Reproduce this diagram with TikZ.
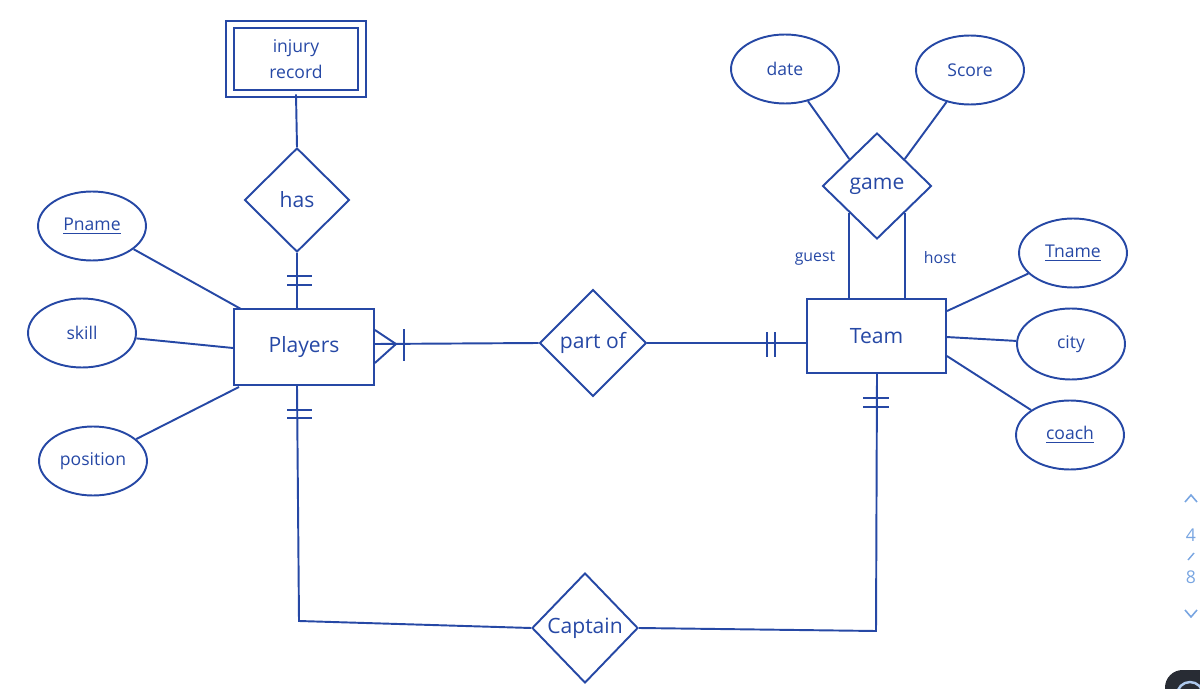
\documentclass[tikz,border=0pt]{standalone}
\usepackage{fontspec}
\setmainfont{Open Sans}
\usetikzlibrary{shapes.geometric,calc}
\definecolor{ink}{RGB}{38,72,165}
\definecolor{pager}{RGB}{120,165,225}
\definecolor{darkui}{RGB}{40,44,52}
\begin{document}
\begin{tikzpicture}[x=0.02cm,y=-0.02cm,line width=1.1pt,
  every node/.style={text=ink},
  entity/.style={draw=ink,rectangle,inner sep=0pt,minimum width=2.8cm,minimum height=1.52cm,font=\fontsize{12}{14}\selectfont},
  weakentity/.style={draw=ink,rectangle,double,double distance=0.11cm,inner sep=0pt,minimum width=2.64cm,minimum height=1.38cm,font=\fontsize{10}{15}\selectfont,align=center},
  rel/.style={draw=ink,diamond,inner sep=0pt,minimum width=2.14cm,minimum height=2.14cm,font=\fontsize{12}{14}\selectfont},
  attr/.style={draw=ink,ellipse,inner sep=0pt,minimum width=2.16cm,minimum height=1.38cm,font=\fontsize{10}{12}\selectfont},
  conn/.style={draw=ink},
  role/.style={font=\fontsize{9}{11}\selectfont},
  pg/.style={text=pager,font=\fontsize{10}{12}\selectfont}]
\useasboundingbox (0,0) rectangle (1200,689);

% entities
\node[weakentity] (injury) at (296,59) {injury\\record};
\node[entity] (Players) at (304,347) {Players};
\node[entity,minimum width=2.78cm,minimum height=1.48cm] (Team) at (876.5,336) {Team};

% relationships
\node[rel,minimum width=2.1cm,minimum height=2.08cm] (has) at (297,200) {has};
\node[rel] (partof) at (593,343) {part of};
\node[rel,minimum width=2.18cm,minimum height=2.12cm] (game) at (877,186) {game};
\node[rel,minimum width=2.12cm,minimum height=2.2cm] (Captain) at (585,628) {Captain};

% attributes
\node[attr] (Pname) at (92,226) {\underline{Pname}};
\node[attr] (skill) at (82,333) {skill};
\node[attr] (position) at (93,461) {position};
\node[attr] (date) at (785,69) {date};
\node[attr] (Score) at (970,70) {Score};
\node[attr] (Tname) at (1073,253) {\underline{Tname}};
\node[attr,minimum height=1.42cm] (city) at (1071,344) {city};
\node[attr] (coach) at (1070,435) {\underline{coach}};

% injury record -- has -- Players
\draw[conn] (injury.south) -- (has.north);
\coordinate (hasP) at (has.south |- Players.north);
\draw[conn] (has.south) -- (hasP);
\draw[conn] ($(hasP)+(-10,-32)$) -- ($(hasP)+(15,-32)$);
\draw[conn] ($(hasP)+(-10,-23)$) -- ($(hasP)+(15,-23)$);

% Players attributes
\coordinate (pA) at ($(Players.north west)+(8,1)$);
\coordinate (pB) at ($(Players.west)+(0,1)$);
\coordinate (pC) at ($(Players.south west)+(6,1)$);
\draw[conn] (Pname) -- (pA);
\draw[conn] (skill) -- (pB);
\draw[conn] (position) -- (pC);

% Players -- part of  (crow's foot)
\coordinate (tip) at (396,344);
\coordinate (pE) at (Players.east |- tip);
\draw[conn] ($(Players.north east)+(0,22)$) -- (tip) -- ($(Players.south east)+(0,-23)$);
\draw[conn] (pE) -- (partof.west);
\draw[conn] (404,329) -- (404,361);

% part of -- Team
\coordinate (tW) at (partof.east -| Team.west);
\draw[conn] (partof.east) -- (tW);
\draw[conn] ($(tW)+(-39,-11)$) -- ($(tW)+(-39,14)$);
\draw[conn] ($(tW)+(-31,-11)$) -- ($(tW)+(-31,14)$);

% game
\draw[conn] (date) -- (game.north west);
\draw[conn] (Score) -- (game.north east);
\draw[conn] (game.south west) -- (game.south west |- Team.north);
\draw[conn] (game.south east) -- (game.south east |- Team.north);
\node[role] (guest) at (815,258) {guest};
\node[role] (host) at (940,258) {host};

% Team attributes
\coordinate (tA) at ($(Team.north east)+(0,13)$);
\coordinate (tB) at ($(Team.north east)+(0,39)$);
\coordinate (tC) at ($(Team.north east)+(0,58)$);
\draw[conn] (tA) -- (Tname);
\draw[conn] (tB) -- (city);
\draw[conn] (tC) -- (coach);

% Captain
\coordinate (c1) at (299,621);
\coordinate (pS) at (Players.south -| 297,0);
\draw[conn] (pS) -- (c1) -- (Captain.west);
\draw[conn] (287,410) -- (312,410);
\draw[conn] (287,418) -- (312,418);
\coordinate (c2) at (876,631);
\coordinate (tS) at (Team.south -| 877,0);
\draw[conn] (Captain.east) -- (c2) -- (tS);
\draw[conn] (863,398) -- (889,398);
\draw[conn] (863,407) -- (889,407);

% page indicator
\draw[pager,line width=0.9pt] (1185,502) -- (1191,495) -- (1197,502);
\node[pg] (p4) at (1191,535) {4};
\draw[pager,line width=0.8pt] (1188,560) -- (1194,553);
\node[pg] (p8) at (1191,577) {8};
\draw[pager,line width=0.9pt] (1185,610) -- (1191,617) -- (1197,610);

% corner widget
\begin{scope}
\clip (0,0) rectangle (1200,689);
\fill[darkui,rounded corners=10] (1165,670) rectangle (1230,720);
\draw[pager!60!white,line width=1.4pt] (1190,695) circle (13);
\end{scope}
\end{tikzpicture}
\end{document}
